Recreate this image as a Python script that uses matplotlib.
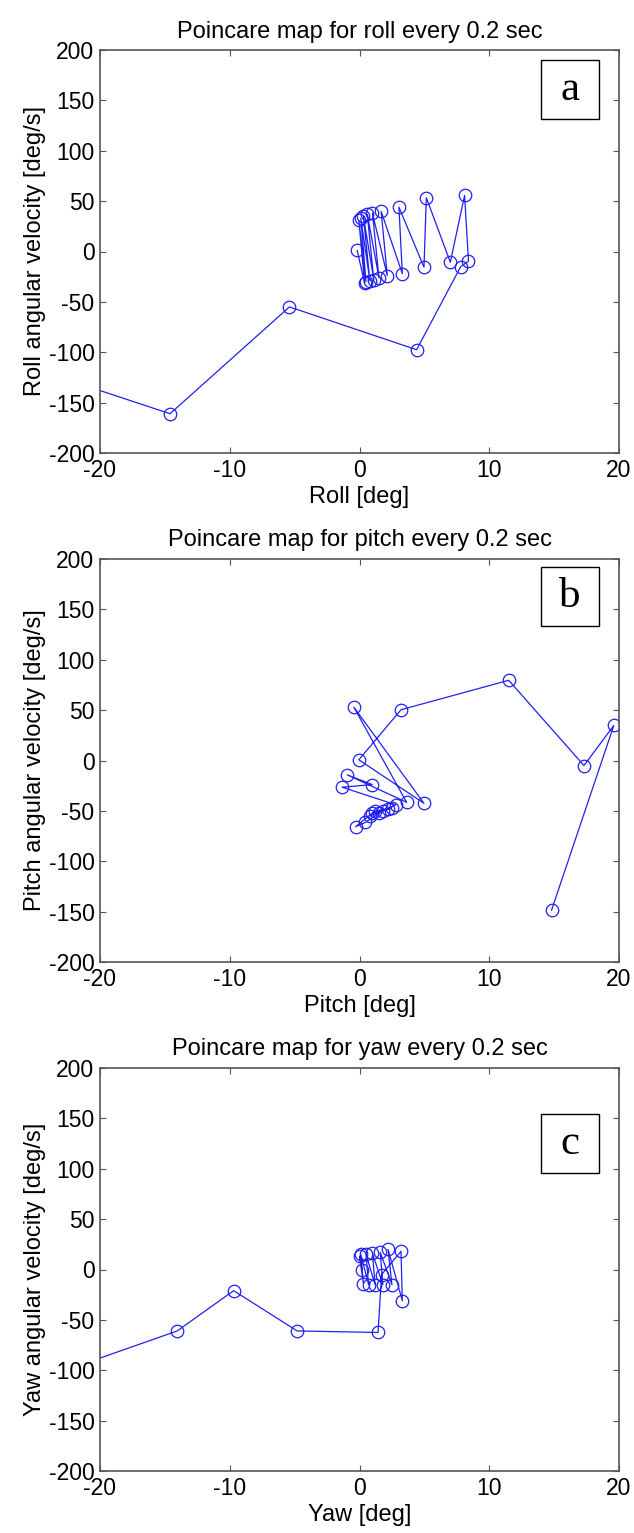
import matplotlib.pyplot as plt
import numpy as np

plt.rcParams["font.family"] = ["Liberation Sans", "DejaVu Sans"]
plt.rcParams["axes.unicode_minus"] = False

# roll map (deg, deg/s); first point lies left of the axis window
roll_x = [-24.0, -14.6, -5.4, 4.4, 7.8, 8.4, 8.1, 7.0, 5.15, 4.97, 3.04, 3.3, 1.67, 2.14,
          1.0, 1.5, 0.6, 1.1, 0.3, 0.8, 0.1, 0.5, -0.05, 0.39, -0.18]
roll_v = [-121.0, -161.0, -55.0, -97.5, -15.0, -9.6, 55.7, -10.6, 53.4, -15.6, 44.0, -22.0, 39.8, -23.9,
          38.0, -26.0, 37.0, -28.0, 35.0, -29.0, 33.0, -30.0, 30.8, -31.0, 1.0]

# pitch map
pitch_x = [14.8, 19.6, 17.3, 11.5, 3.2, -0.05, 4.97, -0.44, 3.63, -0.95, 0.98, -1.34,
           2.8, 0.8, 2.5, 1.0, 2.2, 1.2, -0.3, 0.46, 1.8, 1.5]
pitch_v = [-148.6, 34.8, -5.0, 79.6, 50.4, 0.7, -42.5, 53.0, -41.5, -14.2, -23.9, -26.5,
           -44.0, -55.0, -47.0, -52.0, -48.0, -50.0, -65.7, -61.4, -50.0, -52.0]

# yaw map; first point lies left of the axis window
yaw_x = [-24.0, -14.05, -9.7, -4.8, 1.43, 1.7, 3.2, 3.3, 2.2, 2.5, 1.6, 1.8, 1.0, 1.2,
         0.5, 0.7, 0.1, 0.3, 0.0, 0.2]
yaw_v = [-106.0, -61.0, -21.0, -61.0, -62.5, -5.0, 18.0, -31.0, 20.0, -15.0, 17.0, -15.0, 16.0, -15.0,
         15.0, -15.0, 15.0, -14.0, 13.0, 0.0]

panels = [
    ("Poincare map for roll every 0.2 sec", "Roll [deg]", "Roll angular velocity [deg/s]", "a", roll_x, roll_v, 10),
    ("Poincare map for pitch every 0.2 sec", "Pitch [deg]", "Pitch angular velocity [deg/s]", "b", pitch_x, pitch_v, 8),
    ("Poincare map for yaw every 0.2 sec", "Yaw [deg]", "Yaw angular velocity [deg/s]", "c", yaw_x, yaw_v, 46),
]

W, H = 634, 1533
fig = plt.figure(figsize=(W / 100, H / 100), dpi=100)
tops = [50, 559, 1068]
ax_h = 403
left, right = 100, 619

for (title, xlabel, ylabel, letter, xs, vs, box_off), top in zip(panels, tops):
    ax = fig.add_axes([left / W, 1 - (top + ax_h) / H, (right - left) / W, ax_h / H])
    ax.plot(xs, vs, "-o", color="#2020f0", lw=0.9, ms=9, mfc="none", mew=0.9)
    ax.set_xlim(-20, 20)
    ax.set_ylim(-200, 200)
    ax.set_xticks(np.arange(-20, 21, 10))
    ax.set_yticks(np.arange(-200, 201, 50))
    ax.tick_params(direction="in", length=4, width=0.8, color="#555555",
                   top=True, right=True, labelsize=16.5, pad=4)
    for s in ax.spines.values():
        s.set_color("#555555")
        s.set_linewidth(1.2)
    ax.set_title(title, fontsize=17, pad=9)
    ax.set_xlabel(xlabel, fontsize=17, labelpad=3)
    ax.set_ylabel(ylabel, fontsize=17, labelpad=2)
    bx0 = (541 - left) / (right - left)
    bw = 58 / (right - left)
    by1 = 1 - box_off / ax_h
    bh = 59 / ax_h
    ax.add_patch(plt.Rectangle((bx0, by1 - bh), bw, bh, transform=ax.transAxes,
                               fill=True, fc="white", ec="black", lw=1.0, zorder=5))
    ax.text(bx0 + bw / 2, by1 - bh / 2, letter, transform=ax.transAxes, ha="center", va="center",
            fontsize=31, family="Liberation Serif", zorder=6)

fig.savefig("out.png", dpi=100)
